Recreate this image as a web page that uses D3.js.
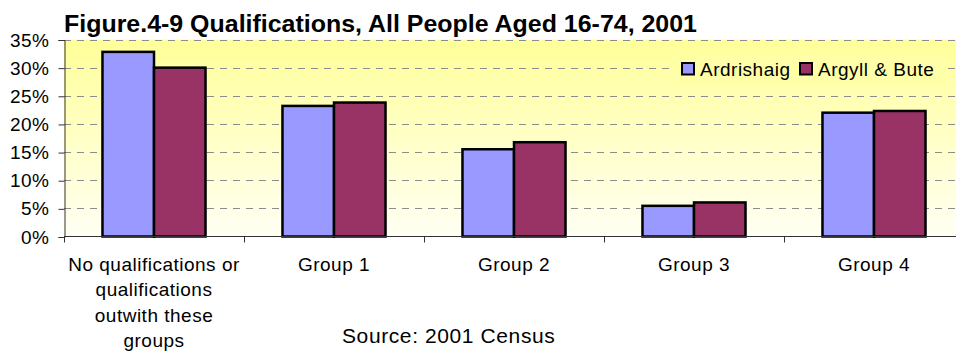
<!DOCTYPE html>
<html>
<head>
<meta charset="utf-8">
<script src="https://cdn.jsdelivr.net/npm/d3@7"></script>
<style>
  html, body { margin: 0; padding: 0; background: #fff; }
  svg { display: block; font-family: "Liberation Sans", Arial, sans-serif; }
</style>
</head>
<body>
<svg id="chart" width="956" height="352"></svg>
<script>
// Qualifications of people aged 16-74, 2001 Census
const categories = [
  ["No qualifications or", "qualifications", "outwith these", "groups"],
  ["Group 1"],
  ["Group 2"],
  ["Group 3"],
  ["Group 4"]
];
const seriesNames = ["Ardrishaig", "Argyll & Bute"];
const ardrishaig = [32.8, 23.2, 15.5, 5.45, 22.0];
const argyllBute = [30.0, 23.8, 16.75, 6.05, 22.3];
const yTicks = [0, 5, 10, 15, 20, 25, 30, 35];
const colors = ["#9999FF", "#993366"];

const svg = d3.select("#chart");
const m = { left: 64, top: 39.5, bottom: 236.5, right: 964 };

const catKeys = categories.map((_, i) => i);
const x0 = d3.scaleBand().domain(catKeys).range([m.left, m.right]).padding(0);
const x1 = d3.scaleBand().domain(seriesNames).range([0, x0.bandwidth()])
  .paddingInner(0).paddingOuter(0.747);
const y = d3.scaleLinear().domain([0, 35]).range([m.bottom, m.top]);

// plot background gradient
const defs = svg.append("defs");
const grad = defs.append("linearGradient").attr("id", "bg")
  .attr("x1", 0).attr("y1", 0).attr("x2", 0).attr("y2", 1);
grad.append("stop").attr("offset", "0%").attr("stop-color", "#FFFF99");
grad.append("stop").attr("offset", "100%").attr("stop-color", "#FFFFF4");
const bgInterp = d3.interpolateRgb("#FFFF99", "#FFFFF4");

svg.append("rect")
  .attr("x", m.left).attr("y", m.top)
  .attr("width", m.right - m.left).attr("height", m.bottom - m.top)
  .attr("fill", "url(#bg)");

// dashed gridlines
svg.append("g").selectAll("line")
  .data(yTicks.filter(d => d > 0))
  .join("line")
  .attr("x1", m.left).attr("x2", m.right)
  .attr("y1", d => Math.round(y(d)) + 0.5).attr("y2", d => Math.round(y(d)) + 0.5)
  .attr("stroke", "#8c8c8c").attr("stroke-width", 1)
  .attr("stroke-dasharray", "7,6");

// bars
const data = catKeys.map(i => [ardrishaig[i], argyllBute[i]]);
const groups = svg.append("g").selectAll("g")
  .data(data).join("g")
  .attr("transform", (d, i) => `translate(${x0(i)},0)`);
groups.selectAll("rect")
  .data(d => d.map((v, j) => ({ v, j })))
  .join("rect")
  .attr("x", d => x1(seriesNames[d.j]))
  .attr("y", d => y(d.v))
  .attr("width", x1.bandwidth())
  .attr("height", d => y(0) - y(d.v))
  .attr("fill", d => colors[d.j])
  .attr("stroke", "#000").attr("stroke-width", 2.5);

// y axis
const yAxis = d3.axisLeft(y).tickValues(yTicks).tickFormat(d => d + "%").tickSize(6).tickPadding(9);
const ya = svg.append("g").attr("transform", `translate(${m.left + 0.5},0.5)`).call(yAxis);
ya.select(".domain").attr("stroke", "#333");
ya.selectAll(".tick line").attr("stroke", "#333");
ya.selectAll(".tick text").attr("font-size", 19).attr("fill", "#000")
  .attr("letter-spacing", "0.5px")
  .attr("font-family", "Liberation Sans, Arial, sans-serif");

// x axis with ticks on category boundaries
const xa = svg.append("g").attr("transform", `translate(0,${m.bottom})`);
xa.append("line").attr("x1", m.left).attr("x2", m.right).attr("y1", 0).attr("y2", 0)
  .attr("stroke", "#333");
xa.selectAll("line.tk").data(catKeys).join("line").attr("class", "tk")
  .attr("x1", d => Math.round(x0(d)) + 0.5).attr("x2", d => Math.round(x0(d)) + 0.5)
  .attr("y1", 0).attr("y2", 6).attr("stroke", "#333");

// category labels
svg.append("g").selectAll("text")
  .data(categories).join("text")
  .attr("x", (d, i) => x0(i) + x0.bandwidth() / 2)
  .attr("y", 271)
  .attr("text-anchor", "middle")
  .attr("font-size", 19)
  .attr("letter-spacing", "0.5px")
  .selectAll("tspan").data(d => d).join("tspan")
  .attr("x", function () { return this.parentNode.getAttribute("x"); })
  .attr("dy", (d, k) => k === 0 ? 0 : 25.4)
  .text(d => d);

// title
svg.append("text")
  .attr("x", 64).attr("y", 31.5)
  .attr("font-size", 23).attr("font-weight", "bold")
  .attr("textLength", 633).attr("lengthAdjust", "spacingAndGlyphs")
  .text("Figure.4-9 Qualifications, All People Aged 16-74, 2001");

// source note
svg.append("text")
  .attr("x", 342).attr("y", 342.5)
  .attr("font-size", 21)
  .attr("letter-spacing", "0.6px")
  .text("Source: 2001 Census");

// legend
const lg = svg.append("g");
lg.append("rect").attr("x", 675).attr("y", 55).attr("width", 270).attr("height", 30)
  .attr("fill", bgInterp((70 - m.top) / (m.bottom - m.top)));
const legendX = [682, 800];
seriesNames.forEach((s, i) => {
  lg.append("rect").attr("x", legendX[i]).attr("y", 63).attr("width", 12).attr("height", 11.5)
    .attr("fill", colors[i]).attr("stroke", "#000").attr("stroke-width", 2);
  lg.append("text").attr("x", legendX[i] + 18).attr("y", 76)
    .attr("font-size", 19).attr("letter-spacing", "0.5px").text(s);
});
</script>
</body>
</html>
